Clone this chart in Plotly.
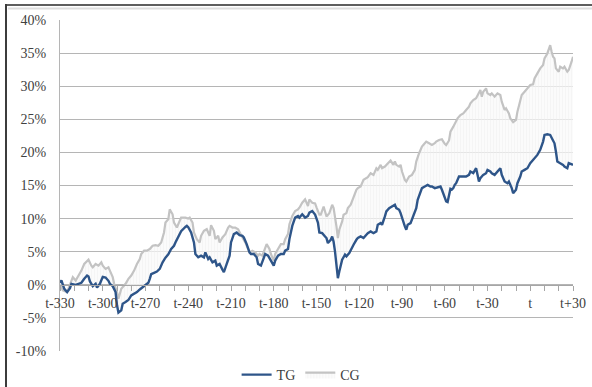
import plotly.graph_objects as go

# Days relative to event day t, and cumulative returns (%) for the two groups
tg_days = [-330, -329, -327, -325, -323, -322, -319, -317, -315, -313, -311, -310, -309, -307, -305, -304,
           -302, -300, -298, -296, -295, -293, -291, -290, -289, -287, -286, -284, -282, -280, -278, -276,
           -274, -272, -270, -268, -267, -266, -264, -262, -260, -259, -258, -256, -254, -252, -250, -249,
           -247, -245, -242, -241, -240, -238, -236, -235, -233, -231, -229, -228, -226, -225, -223, -221,
           -220, -218, -216, -215, -213, -211, -210, -208, -206, -204, -202, -201, -199, -197, -196, -194,
           -192, -191, -189, -187, -186, -184, -182, -180, -179, -177, -175, -173, -172, -170, -169, -167,
           -165, -163, -162, -160, -158, -156, -155, -153, -151, -149, -148, -146, -144, -143, -142, -140,
           -139, -138, -137, -136, -135, -134, -133, -132, -130, -129, -127, -126, -124, -122, -121, -119,
           -117, -115, -114, -112, -110, -108, -107, -105, -104, -102, -101, -99, -97, -95, -94, -92,
           -91, -89, -88, -87, -86, -84, -82, -80, -79, -77, -76, -74, -72, -70, -69, -67,
           -65, -63, -62, -60, -59, -58, -57, -56, -55, -54, -53, -52, -50, -49, -47, -45,
           -43, -42, -40, -38, -37, -36, -35, -33, -31, -30, -28, -27, -25, -23, -21, -20,
           -18, -16, -15, -13, -12, -10, -9, -7, -6, -4, -2, 0, 2, 3, 5, 7,
           9, 10, 12, 14, 16, 17, 18, 19, 21, 23, 24, 26, 27, 29, 30]
tg_vals = [0.3, 0.65, -0.6, -1.1, -0.5, 0.15, 0.0, 0.15, 0.3, 0.9, 1.4, 1.25, 0.5, -0.2, 0.15, -0.4,
           0.15, 1.2, 1.1, 0.6, 0.15, -0.2, -1.1, -3.1, -4.2, -3.85, -2.85, -2.6, -2.3, -1.6, -1.35, -1.1,
           -0.7, -0.35, -0.1, 0.3, 0.9, 1.6, 1.8, 2.0, 2.4, 2.9, 3.4, 4.1, 4.6, 5.4, 5.9, 6.4,
           7.3, 8.1, 8.75, 8.9, 8.7, 7.9, 6.4, 4.65, 4.15, 4.4, 4.15, 4.9, 3.9, 4.15, 3.4, 3.65,
           2.9, 3.15, 2.3, 1.9, 3.15, 4.4, 6.4, 7.65, 7.9, 7.5, 7.4, 7.15, 6.15, 4.9, 4.65, 4.65,
           4.15, 3.15, 2.9, 4.15, 4.65, 4.4, 3.65, 2.9, 3.65, 4.4, 4.65, 4.65, 5.15, 5.4, 6.9, 8.9,
           10.15, 10.4, 10.15, 10.65, 10.15, 10.4, 10.9, 11.15, 10.6, 9.4, 7.9, 7.8, 7.3, 7.06, 6.3, 6.8,
           7.3, 6.5, 5.0, 2.8, 1.0, 2.0, 3.0, 3.8, 4.55, 4.3, 4.8, 5.3, 6.05, 6.8, 7.06, 7.3,
           7.06, 7.56, 7.8, 8.07, 7.8, 8.07, 9.07, 9.32, 9.07, 10.33, 11.08, 11.58, 11.83, 12.09, 11.58, 11.33,
           10.83, 9.32, 8.82, 8.32, 9.07, 9.32, 10.33, 11.58, 12.84, 13.84, 14.6, 14.85, 15.1, 14.85, 14.85, 14.6,
           14.75, 14.85, 14.35, 13.3, 12.6, 12.5, 13.4, 14.5, 14.4, 14.6, 15.1, 15.35, 16.36, 16.36, 16.36, 16.36,
           16.61, 17.11, 16.86, 17.61, 16.61, 15.6, 16.11, 16.61, 16.86, 17.36, 17.11, 16.86, 16.61, 17.11, 17.61, 16.61,
           15.6, 15.35, 15.6, 14.6, 13.84, 14.35, 15.35, 16.36, 17.11, 17.36, 17.61, 18.37, 18.87, 19.12, 19.62, 20.38,
           21.63, 22.64, 22.74, 22.64, 21.88, 21.38, 20.13, 18.62, 18.37, 18.12, 17.86, 17.61, 18.37, 18.12, 18.12]

cg_days = [-330, -328, -325, -323, -321, -319, -317, -315, -313, -311, -310, -308, -307, -305, -303, -301,
           -300, -298, -296, -295, -293, -292, -290, -289, -288, -287, -284, -282, -280, -278, -276, -274,
           -273, -271, -269, -267, -265, -263, -261, -259, -257, -256, -254, -253, -251, -250, -248, -246,
           -245, -242, -240, -239, -237, -236, -234, -232, -231, -229, -227, -225, -224, -222, -221, -219,
           -218, -216, -214, -212, -211, -209, -207, -205, -204, -202, -200, -198, -197, -195, -193, -191,
           -190, -188, -186, -185, -183, -182, -180, -179, -177, -175, -173, -172, -170, -169, -167, -165,
           -163, -162, -160, -158, -156, -155, -153, -151, -150, -149, -148, -147, -146, -145, -144, -143,
           -141, -139, -138, -137, -136, -135, -134, -132, -131, -129, -128, -126, -124, -122, -121, -119,
           -117, -115, -114, -112, -110, -108, -107, -105, -104, -102, -101, -99, -98, -96, -95, -94,
           -92, -91, -90, -88, -87, -85, -83, -81, -80, -78, -76, -74, -73, -71, -69, -67,
           -66, -64, -62, -60, -59, -57, -56, -54, -52, -51, -49, -47, -45, -43, -42, -40,
           -38, -36, -35, -34, -33, -31, -30, -28, -27, -25, -23, -21, -20, -18, -17, -15,
           -14, -12, -10, -9, -7, -6, -4, -2, 0, 2, 3, 5, 7, 9, 10, 12,
           13, 14, 15, 16, 17, 18, 20, 21, 23, 24, 26, 27, 29, 30]
cg_vals = [0.0, -0.85, -1.1, 0.15, 1.15, 0.65, 1.4, 2.15, 3.15, 3.65, 3.8, 2.9, 2.65, 3.15, 2.9, 3.4,
           2.9, 2.4, 2.65, 2.15, 1.15, 0.15, -1.1, -2.1, -1.35, -0.6, 0.15, 0.9, 1.4, 2.15, 3.15, 3.9,
           4.65, 5.15, 5.15, 5.4, 5.9, 6.0, 5.9, 6.4, 7.9, 9.4, 9.9, 11.4, 10.65, 9.4, 8.65, 9.65,
           10.15, 10.15, 10.0, 10.15, 9.4, 7.9, 6.9, 6.4, 7.4, 8.15, 8.4, 7.4, 9.0, 8.15, 6.9, 7.4,
           6.4, 7.15, 7.65, 8.65, 8.9, 8.65, 8.65, 8.4, 7.9, 7.15, 6.4, 5.4, 4.9, 5.15, 4.9, 4.4,
           4.65, 4.4, 5.65, 6.15, 5.4, 4.65, 3.65, 4.65, 5.4, 6.15, 6.15, 6.9, 7.65, 9.15, 10.4, 11.15,
           11.4, 11.65, 12.4, 12.9, 11.9, 12.9, 12.4, 12.3, 11.7, 11.2, 10.6, 10.6, 11.08, 11.83, 11.08, 10.33,
           10.83, 12.09, 11.58, 10.33, 8.82, 7.06, 8.32, 9.57, 10.58, 10.83, 11.58, 12.09, 13.34, 14.35, 14.6, 14.85,
           15.85, 16.11, 16.26, 16.86, 16.61, 17.61, 17.36, 18.12, 17.61, 17.86, 18.12, 18.62, 18.77, 18.12, 18.62, 18.12,
           17.86, 18.12, 17.11, 15.85, 15.6, 16.36, 16.61, 17.36, 18.62, 19.87, 20.88, 21.38, 21.63, 21.38, 21.13, 21.38,
           21.63, 21.88, 21.98, 21.3, 21.1, 21.8, 23.14, 23.89, 24.65, 25.15, 25.65, 25.9, 26.41, 26.91, 27.41, 27.91,
           28.17, 28.92, 29.42, 28.42, 29.17, 29.67, 28.92, 28.67, 28.92, 28.42, 28.92, 28.67, 27.66, 26.41, 26.66, 25.9,
           25.15, 24.55, 24.9, 26.16, 28.17, 28.67, 29.17, 29.67, 30.18, 30.28, 31.18, 31.93, 32.69, 33.19, 34.2, 34.95,
           35.45, 36.2, 35.2, 34.45, 34.2, 32.69, 32.19, 32.94, 32.69, 32.94, 32.19, 32.44, 33.7, 34.45]

# Axis ticks: minor marks every 10 days, labels every 30 days
x_tick_days = list(range(-330, 31, 10))
x_tick_text = [("t" if d == 0 else f"t{d:+d}") if d % 30 == 0 else "" for d in x_tick_days]
y_tick_vals = list(range(-10, 41, 5))
y_tick_text = [f"{v}%" for v in y_tick_vals]

TG_COLOR = "#2e5589"
CG_COLOR = "#c3c3c3"
FONT = dict(family="Liberation Serif, Times New Roman, serif", size=14, color="#404040")

fig = go.Figure()

# Lower edge of the shaded band between the two groups
fig.add_trace(go.Scatter(x=tg_days, y=tg_vals, mode="lines", line=dict(width=0, color=TG_COLOR),
                         showlegend=False, hoverinfo="skip"))
# Control group, shaded down to the treatment group
fig.add_trace(go.Scatter(x=cg_days, y=cg_vals, mode="lines", name="CG",
                         line=dict(color=CG_COLOR, width=2.2),
                         fill="tonexty", fillcolor="rgba(240,240,240,0.4)",
                         fillpattern=dict(shape="|", fgcolor="#eeeeee", bgcolor="rgba(250,250,250,0.7)",
                                          size=3, solidity=0.3),
                         legendrank=2))
# Treatment group drawn on top
fig.add_trace(go.Scatter(x=tg_days, y=tg_vals, mode="lines", name="TG",
                         line=dict(color=TG_COLOR, width=2.4), legendrank=1))

W, H = 592, 387
ML, MR, MT, MB = 60, 19, 20, 36
pw, ph = W - ML - MR, H - MT - MB


def px_x(px):
    return (px - ML) / pw


def px_y(py):
    return (H - MB - py) / ph


fig.update_layout(
    width=W, height=H,
    margin=dict(l=ML, r=MR, t=MT, b=MB, autoexpand=False),
    paper_bgcolor="white", plot_bgcolor="white",
    font=FONT,
    showlegend=True,
    legend=dict(orientation="h", traceorder="normal", x=0.47, xanchor="center", y=px_y(375),
                yanchor="middle", font=FONT, itemwidth=30, bgcolor="rgba(0,0,0,0)"),
    xaxis=dict(range=[-330, 30], tickmode="array", tickvals=x_tick_days, ticktext=x_tick_text,
               anchor="free", position=0.2, showline=True, linecolor="#a6a6a6", linewidth=1,
               ticks="outside", ticklen=5, tickcolor="#a6a6a6", showgrid=False, zeroline=False,
               tickfont=FONT),
    yaxis=dict(range=[-10, 40], tickmode="array", tickvals=y_tick_vals, ticktext=y_tick_text,
               showgrid=True, gridcolor="#b5b5b5", gridwidth=1, zeroline=False,
               showline=True, linecolor="#b5b5b5", ticks="", ticklabelstandoff=10,
               tickfont=FONT),
    shapes=[
        dict(type="line", xref="paper", yref="paper", x0=px_x(6), x1=px_x(W + 2), y0=px_y(5), y1=px_y(5),
             line=dict(color="#5e5e5e", width=2)),
        dict(type="line", xref="paper", yref="paper", x0=px_x(8), x1=px_x(W + 2), y0=px_y(8.5), y1=px_y(8.5),
             line=dict(color="#dddddd", width=2)),
        dict(type="line", xref="paper", yref="paper", x0=px_x(6), x1=px_x(6), y0=px_y(4), y1=px_y(H + 2),
             line=dict(color="#3c3c3c", width=2)),
    ],
)

fig.write_html("out.html")
